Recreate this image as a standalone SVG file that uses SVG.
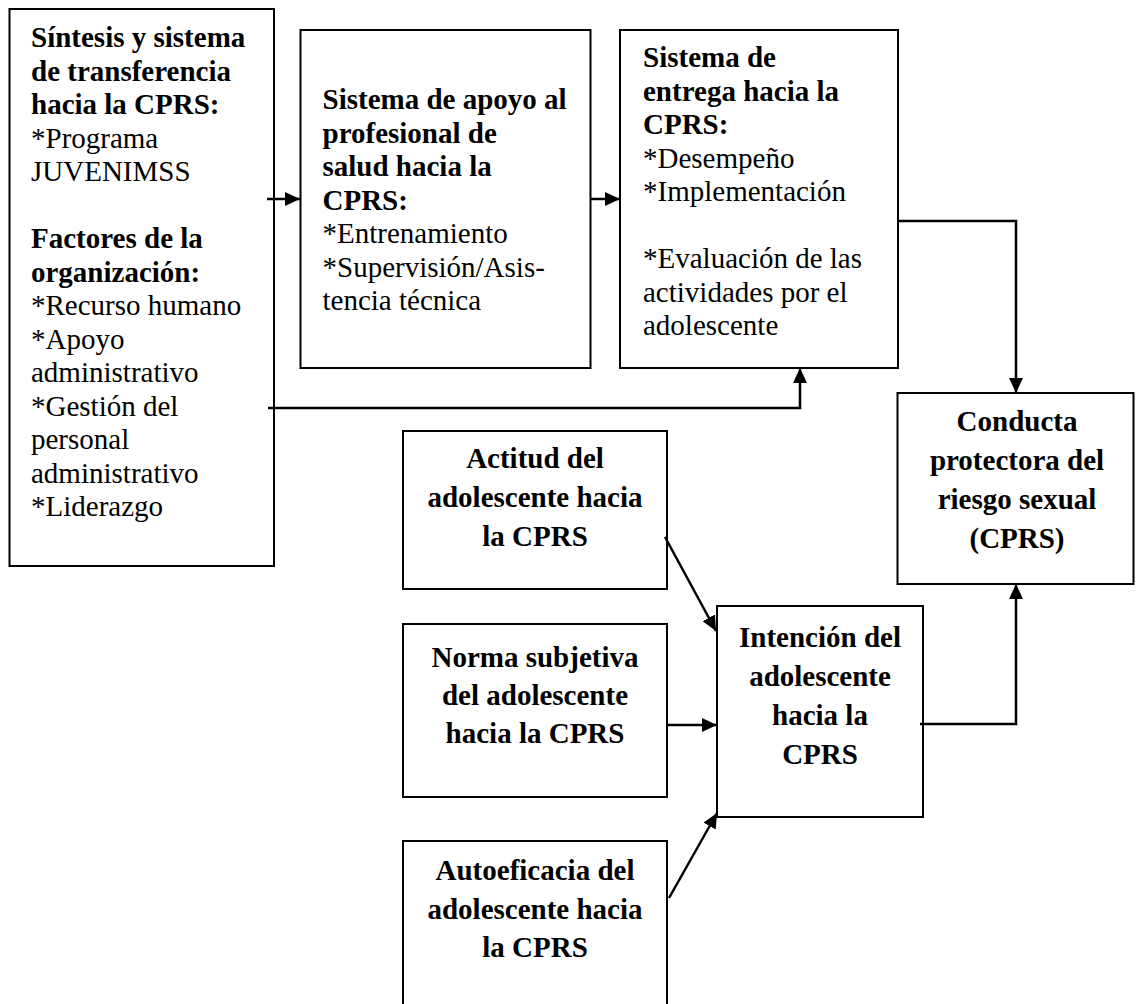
<svg xmlns="http://www.w3.org/2000/svg" width="1136" height="1004" viewBox="0 0 1136 1004">
<style>
.box{fill:#fff;stroke:#000;stroke-width:2}
.t{font-family:"Liberation Serif","Times New Roman",serif;font-size:29px;fill:#000}
.b{font-weight:bold}
.c{text-anchor:middle}
.con{fill:none;stroke:#000;stroke-width:2.5}
</style>
<defs>
<marker id="ah" markerWidth="15" markerHeight="14" refX="15" refY="7" orient="auto" markerUnits="userSpaceOnUse">
<path d="M0,0 L15,7 L0,14 z" fill="#000"/>
</marker>
</defs>
<rect width="1136" height="1004" fill="#fff"/>

<g id="n-sintesis">
<rect class="box" x="9.5" y="9" width="264.5" height="557"/>
<text class="t b" x="31" y="47">Síntesis y sistema</text>
<text class="t b" x="31" y="80.5">de transferencia</text>
<text class="t b" x="31" y="114">hacia la CPRS:</text>
<text class="t" x="31" y="147.5">*Programa</text>
<text class="t" x="31" y="181">JUVENIMSS</text>
<text class="t b" x="31" y="248">Factores de la</text>
<text class="t b" x="31" y="281.5">organización:</text>
<text class="t" x="31" y="315">*Recurso humano</text>
<text class="t" x="31" y="348.5">*Apoyo</text>
<text class="t" x="31" y="382">administrativo</text>
<text class="t" x="31" y="415.5">*Gestión del</text>
<text class="t" x="31" y="449">personal</text>
<text class="t" x="31" y="482.5">administrativo</text>
<text class="t" x="31" y="516">*Liderazgo</text>
</g>

<g id="n-apoyo">
<rect class="box" x="300.5" y="30" width="290" height="338"/>
<text class="t b" x="322.5" y="109">Sistema de apoyo al</text>
<text class="t b" x="322.5" y="142.5">profesional de</text>
<text class="t b" x="322.5" y="176">salud hacia la</text>
<text class="t b" x="322.5" y="209.5">CPRS:</text>
<text class="t" x="322.5" y="243">*Entrenamiento</text>
<text class="t" x="322.5" y="276.5">*Supervisión/Asis-</text>
<text class="t" x="322.5" y="310">tencia técnica</text>
</g>

<g id="n-entrega">
<rect class="box" x="620" y="30" width="278" height="338"/>
<text class="t b" x="643" y="67">Sistema de</text>
<text class="t b" x="643" y="100.5">entrega hacia la</text>
<text class="t b" x="643" y="134">CPRS:</text>
<text class="t" x="643" y="167.5">*Desempeño</text>
<text class="t" x="643" y="201">*Implementación</text>
<text class="t" x="643" y="268">*Evaluación de las</text>
<text class="t" x="643" y="301.5">actividades por el</text>
<text class="t" x="643" y="335">adolescente</text>
</g>

<g id="n-conducta">
<rect class="box" x="897.5" y="393" width="236" height="191"/>
<text class="t b c" x="1017" y="431">Conducta</text>
<text class="t b c" x="1017" y="470">protectora del</text>
<text class="t b c" x="1017" y="509">riesgo sexual</text>
<text class="t b c" x="1017" y="548">(CPRS)</text>
</g>

<g id="n-actitud">
<rect class="box" x="403" y="431" width="264" height="158"/>
<text class="t b c" x="535" y="468">Actitud del</text>
<text class="t b c" x="535" y="507">adolescente hacia</text>
<text class="t b c" x="535" y="546">la CPRS</text>
</g>

<g id="n-norma">
<rect class="box" x="403" y="624" width="264" height="173"/>
<text class="t b c" x="535" y="667">Norma subjetiva</text>
<text class="t b c" x="535" y="705">del adolescente</text>
<text class="t b c" x="535" y="743">hacia la CPRS</text>
</g>

<g id="n-autoeficacia">
<rect class="box" x="403" y="841" width="264" height="180"/>
<text class="t b c" x="535" y="880">Autoeficacia del</text>
<text class="t b c" x="535" y="919">adolescente hacia</text>
<text class="t b c" x="535" y="957">la CPRS</text>
</g>

<g id="n-intencion">
<rect class="box" x="717" y="606" width="206" height="211"/>
<text class="t b c" x="820" y="647">Intención del</text>
<text class="t b c" x="820" y="686">adolescente</text>
<text class="t b c" x="820" y="725">hacia la</text>
<text class="t b c" x="820" y="764">CPRS</text>
</g>

<g id="connectors">
<path class="con" d="M267,199 L300,199" marker-end="url(#ah)"/>
<path class="con" d="M590,199 L620,199" marker-end="url(#ah)"/>
<path class="con" d="M268,408 L800,408 L800,368" marker-end="url(#ah)"/>
<path class="con" d="M898,221 L1016,221 L1016,393" marker-end="url(#ah)"/>
<path class="con" d="M665,537 L716,631" marker-end="url(#ah)"/>
<path class="con" d="M667,725 L717,725" marker-end="url(#ah)"/>
<path class="con" d="M669,898 L717,813" marker-end="url(#ah)"/>
<path class="con" d="M920,724 L1016,724 L1016,584" marker-end="url(#ah)"/>
</g>
</svg>
